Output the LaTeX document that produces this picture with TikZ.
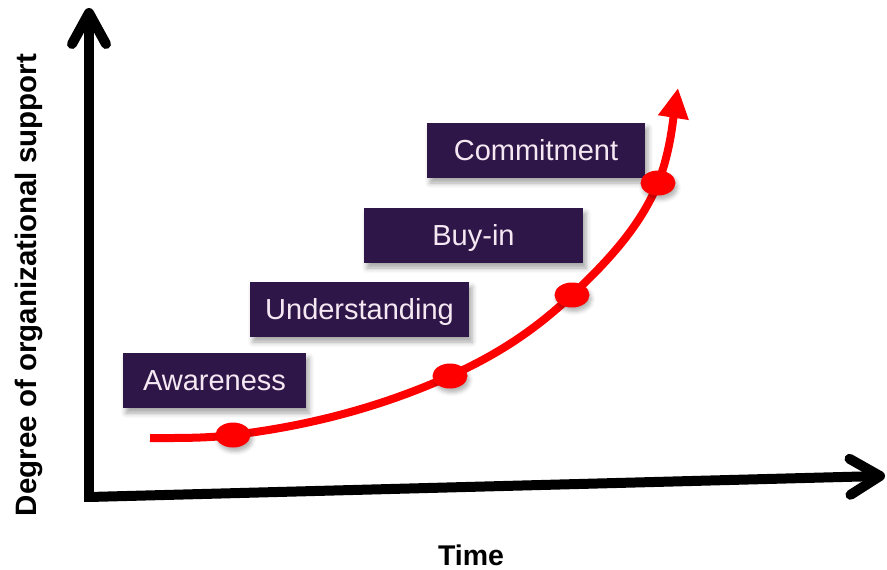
\documentclass[tikz,border=0pt]{standalone}
\usepackage{fontspec}
\setmainfont{Liberation Sans}
\usetikzlibrary{arrows.meta,shapes.geometric,shadows.blur,calc}

\definecolor{boxpurple}{RGB}{46,23,72}
\definecolor{boxtext}{RGB}{245,232,242}
\definecolor{curvered}{RGB}{255,0,0}

\begin{document}
\begin{tikzpicture}[x=1pt,y=-1pt,
  stage/.style={fill=boxpurple, text=boxtext, inner sep=0pt,
    font=\fontsize{29}{32}\selectfont, text height=20.8pt, text depth=0pt,
    minimum height=55pt,
    blur shadow={shadow xshift=3pt, shadow yshift=-5pt, shadow blur radius=5pt, shadow opacity=35}},
  dot/.style={ellipse, fill=curvered, inner sep=0pt, minimum width=35pt, minimum height=25pt,
    blur shadow={shadow xshift=2pt, shadow yshift=-4pt, shadow blur radius=4pt, shadow opacity=30}},
  axis/.style={line width=10pt, black},
  chevron/.style={line width=10pt, black, line cap=round, line join=round},
  axislabel/.style={font=\bfseries\fontsize{28.5}{31}\selectfont, text height=20.4pt, text depth=0pt, inner sep=0pt}
]
\useasboundingbox (0,0) rectangle (887,570);

% axes
\coordinate (O) at (89,497);
\coordinate (Ytop) at (89,13);
\coordinate (Xend) at (880,476);
\draw[axis] (89,502) -- (O) -- (Ytop);
\draw[axis] (O) -- (Xend);
\draw[chevron] ($(Ytop)+(-17,31)$) -- (Ytop) -- ($(Ytop)+(17,31)$);
\draw[chevron] (849.5,458.8) -- (Xend) -- (850.5,494.8);

% labels
\node[axislabel, rotate=90, font=\bfseries\fontsize{29.5}{32}\selectfont, text height=21.1pt] (ylab) at (26,285) {Degree of organizational support};
\node[axislabel] (xlab) at (471,555) {Time};

% stage boxes
\node[stage, minimum width=183pt] (aw) at (214.5,380.5) {Awareness};
\node[stage, minimum width=219pt] (un) at (359.5,309.5) {Understanding};
\node[stage, minimum width=219pt] (bu) at (473.5,235.5) {Buy-in};
\node[stage, minimum width=218pt] (co) at (536,150.5) {Commitment};

% curve
\coordinate (s) at (150,438);
\coordinate (p1) at (233,435);
\coordinate (p2) at (450,376);
\coordinate (p3) at (572,295);
\coordinate (p4) at (658,183);
\coordinate (e) at (678,88);
\draw[line width=8pt, curvered, -{Triangle[length=30pt,width=29pt]}]
  (s) .. controls (178,438) and (205,438.4) .. (p1)
      .. controls (305,426.4) and (378,408.4) .. (p2)
      .. controls (491,357.5) and (531,334) .. (p3)
      .. controls (606,263) and (640.5,226.6) .. (p4)
      .. controls (670,153) and (673,120) .. (e);

\node[dot] (d1) at (p1) {};
\node[dot] (d2) at (p2) {};
\node[dot] (d3) at (p3) {};
\node[dot] (d4) at (p4) {};
\end{tikzpicture}
\end{document}
